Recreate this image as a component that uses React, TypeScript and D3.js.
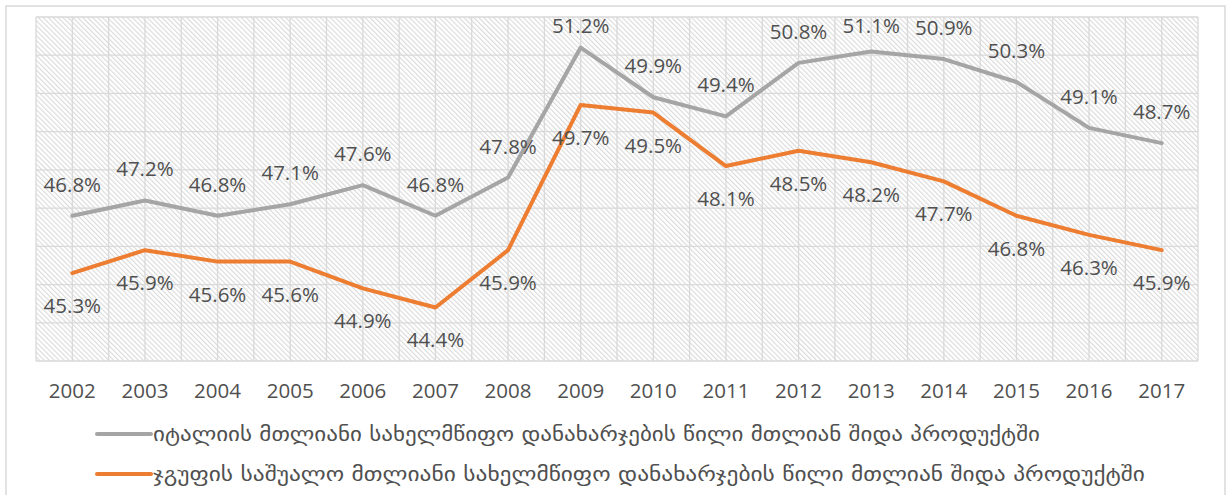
import React from "react";
import * as d3 from "d3";

const years = ["2002","2003","2004","2005","2006","2007","2008","2009","2010","2011","2012","2013","2014","2015","2016","2017"];
const italyValues = [46.8, 47.2, 46.8, 47.1, 47.6, 46.8, 47.8, 51.2, 49.9, 49.4, 50.8, 51.1, 50.9, 50.3, 49.1, 48.7];
const groupValues = [45.3, 45.9, 45.6, 45.6, 44.9, 44.4, 45.9, 49.7, 49.5, 48.1, 48.5, 48.2, 47.7, 46.8, 46.3, 45.9];
const seriesNames = [
  "იტალიის მთლიანი სახელმწიფო დანახარჯების წილი მთლიან შიდა პროდუქტში",
  "ჯგუფის საშუალო მთლიანი სახელმწიფო დანახარჯების წილი მთლიან შიდა პროდუქტში",
];
const yDomain = [43, 52];

const W = 1227, H = 495;
const plot = { left: 36, right: 1198, top: 17, bottom: 361 };
const textColor = "#505050";
const colors = ["#A5A5A5", "#ED7D31"];
const numFont = "'Open Sans', 'Noto Sans', sans-serif";

export default function App() {
  const x = d3.scaleBand<string>().domain(years).range([plot.left, plot.right]).padding(0);
  const y = d3.scaleLinear().domain(yDomain).range([plot.bottom, plot.top]);
  const bw = x.bandwidth();
  const cx = (yr: string) => (x(yr) as number) + bw / 2;

  const line = d3.line<number>().x((_, i) => cx(years[i])).y((v) => y(v));

  const hTicks = d3.range(yDomain[0], yDomain[1] + 1, 1);
  const vLines: number[] = [];
  years.forEach((yr) => { vLines.push(x(yr) as number); vLines.push(cx(yr)); });
  vLines.push(plot.right);

  const legendLens = [887, 992];

  return (
    <svg width={W} height={H} style={{ position: "absolute", left: 0, top: 0, background: "#fff" }}>
      <defs>
        <pattern id="hatch" patternUnits="userSpaceOnUse" width={3.5} height={3.5} patternTransform="rotate(-45)">
          <rect width={3.5} height={3.5} fill="#ffffff" />
          <line x1={0.6} y1={-1} x2={0.6} y2={5} stroke="#d9d9d9" strokeWidth={1.1} />
        </pattern>
      </defs>
      <rect x={6} y={6} width={1219} height={500} fill="#fff" stroke="#d9d9d9" strokeWidth={1.5} />
      <rect x={plot.left} y={plot.top} width={plot.right - plot.left} height={plot.bottom - plot.top} fill="url(#hatch)" />
      {hTicks.map((t) => (
        <line key={"h" + t} x1={plot.left} x2={plot.right} y1={y(t)} y2={y(t)} stroke="#d9d9d9" strokeWidth={1.3} />
      ))}
      {vLines.map((vx, i) => (
        <line key={"v" + i} x1={vx} x2={vx} y1={plot.top} y2={plot.bottom} stroke="#d9d9d9" strokeWidth={1.3} />
      ))}
      {[italyValues, groupValues].map((vals, si) => (
        <path key={"l" + si} d={line(vals) || ""} fill="none" stroke={colors[si]} strokeWidth={4} strokeLinejoin="round" strokeLinecap="round" />
      ))}
      {italyValues.map((v, i) => (
        <text key={"gi" + i} x={cx(years[i])} y={Math.max(y(v) - 24, 33)} textAnchor="middle" fontFamily={numFont} fontSize={20.5} fill={textColor}>
          {v.toFixed(1)}%
        </text>
      ))}
      {groupValues.map((v, i) => (
        <text key={"go" + i} x={cx(years[i])} y={y(v) + 40} textAnchor="middle" fontFamily={numFont} fontSize={20.5} fill={textColor}>
          {v.toFixed(1)}%
        </text>
      ))}
      {years.map((yr) => (
        <text key={"x" + yr} x={cx(yr)} y={398} textAnchor="middle" fontFamily={numFont} fontSize={20.5} fill={textColor}>
          {yr}
        </text>
      ))}
      {seriesNames.map((name, i) => (
        <g key={"lg" + i}>
          <line x1={97} x2={151} y1={434 + i * 40} y2={434 + i * 40} stroke={colors[i]} strokeWidth={4} strokeLinecap="round" />
          <text x={153} y={441 + i * 40} fontFamily="'DejaVu Sans', sans-serif" fontSize={19} fill={textColor}
            textLength={legendLens[i]} lengthAdjust="spacingAndGlyphs">
            {name}
          </text>
        </g>
      ))}
    </svg>
  );
}
